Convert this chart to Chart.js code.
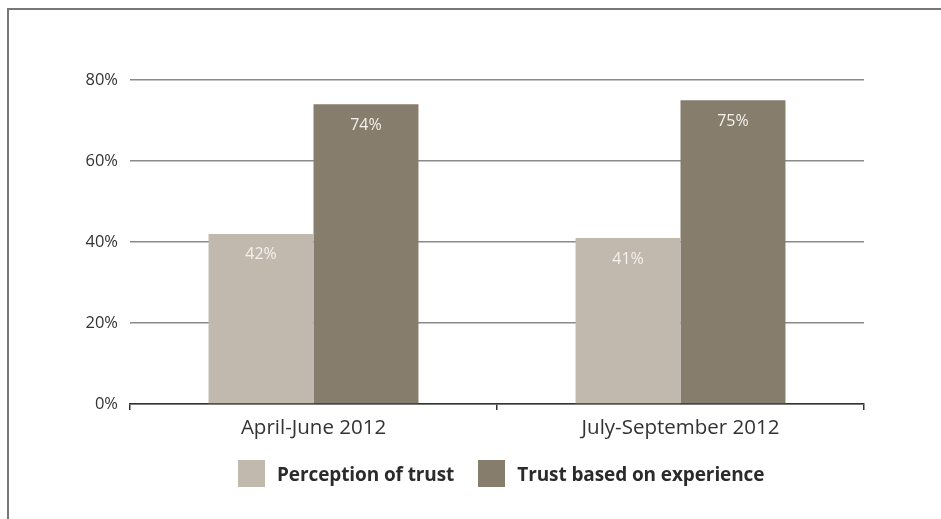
<!DOCTYPE html>
<html lang="en">
  <head>
    <meta charset="UTF-8" />
    <title>Trust</title>
    <style>
      html, body { margin: 0; padding: 0; background: #fff; }
      body { width: 941px; height: 519px; position: relative; overflow: hidden; font-family: "Open Sans", sans-serif; }
      .frame { position: absolute; left: 7px; top: 8px; width: 1000px; height: 600px; border-top: 2px solid #777; border-left: 2px solid #777; }
      #chartWrap { position: absolute; left: 0; top: 0; width: 941px; height: 519px; }
      #legend { position: absolute; left: 238px; top: 460px; display: flex; align-items: center; }
      .item { display: flex; align-items: center; margin-right: 24px; }
      .box { width: 27px; height: 27px; margin-right: 12px; }
      .item span { font-weight: 700; font-size: 19px; color: #2b2b2b; letter-spacing: -0.1px; }
    </style>
  </head>
  <body>
    <div class="frame"></div>
    <div id="chartWrap"><canvas id="barCanvas" width="941" height="519"></canvas></div>
    <div id="legend"></div>

    <script src="https://cdn.jsdelivr.net/npm/chart.js@4.4.1/dist/chart.umd.min.js"></script>
    <script>
        let periods = ['April-June 2012', 'July-September 2012'];
        let perception = [42, 41];
        let experience = [74, 75];
        let seriesNames = ['Perception of trust', 'Trust based on experience'];
        let seriesColors = ['#c1b9ad', '#867d6c'];
        let yTicks = [0, 20, 40, 60, 80];

        // value labels drawn just under the top of each bar
        let valueLabels = {
            id: 'valueLabels',
            afterDatasetsDraw(chart) {
                let ctx = chart.ctx;
                ctx.save();
                ctx.font = '16px "Open Sans"';
                ctx.fillStyle = '#f4f1ec';
                ctx.textAlign = 'center';
                ctx.textBaseline = 'middle';
                chart.data.datasets.forEach(function (ds, i) {
                    chart.getDatasetMeta(i).data.forEach(function (bar, j) {
                        ctx.fillText(ds.data[j] + '%', bar.x, bar.y + 21);
                    });
                });
                ctx.restore();
            }
        };

        let ctx = document.getElementById('barCanvas').getContext('2d');
        window.barChart = new Chart(ctx, {
            type: 'bar',
            data: {
                labels: periods,
                datasets: [
                    { label: seriesNames[0], data: perception, backgroundColor: seriesColors[0] },
                    { label: seriesNames[1], data: experience, backgroundColor: seriesColors[1] }
                ]
            },
            options: {
                responsive: false,
                animation: false,
                layout: { padding: { left: 0, top: 80, right: 77, bottom: 0 } },
                categoryPercentage: 0.572,
                barPercentage: 1.0,
                plugins: { legend: { display: false }, tooltip: { enabled: false } },
                scales: {
                    x: {
                        offset: true,
                        grid: { offset: true, drawOnChartArea: false, drawTicks: true, tickLength: 6, color: '#333', lineWidth: 1.5 },
                        border: { color: '#333', width: 1.5 },
                        ticks: { color: '#333', font: { family: 'Open Sans', size: 20.5 }, padding: 6 },
                        afterFit: function (scale) { scale.height = 519 - 404; }
                    },
                    y: {
                        min: 0,
                        max: 80,
                        afterBuildTicks: function (scale) { scale.ticks = yTicks.map(v => ({ value: v })); },
                        grid: { color: '#8a8a8a', lineWidth: 1.5, drawTicks: false },
                        border: { display: false },
                        ticks: { color: '#333', font: { family: 'Open Sans', size: 16.5 }, padding: 12, callback: v => v + '%' },
                        afterFit: function (scale) { scale.width = 130; }
                    }
                }
            },
            plugins: [valueLabels]
        });

        let legend = document.getElementById('legend');
        seriesNames.forEach(function (name, i) {
            let item = document.createElement('div');
            item.className = 'item';
            item.innerHTML = '<div class="box" style="background:' + seriesColors[i] + '"></div><span>' + name + '</span>';
            legend.appendChild(item);
        });
    </script>
  </body>
</html>
